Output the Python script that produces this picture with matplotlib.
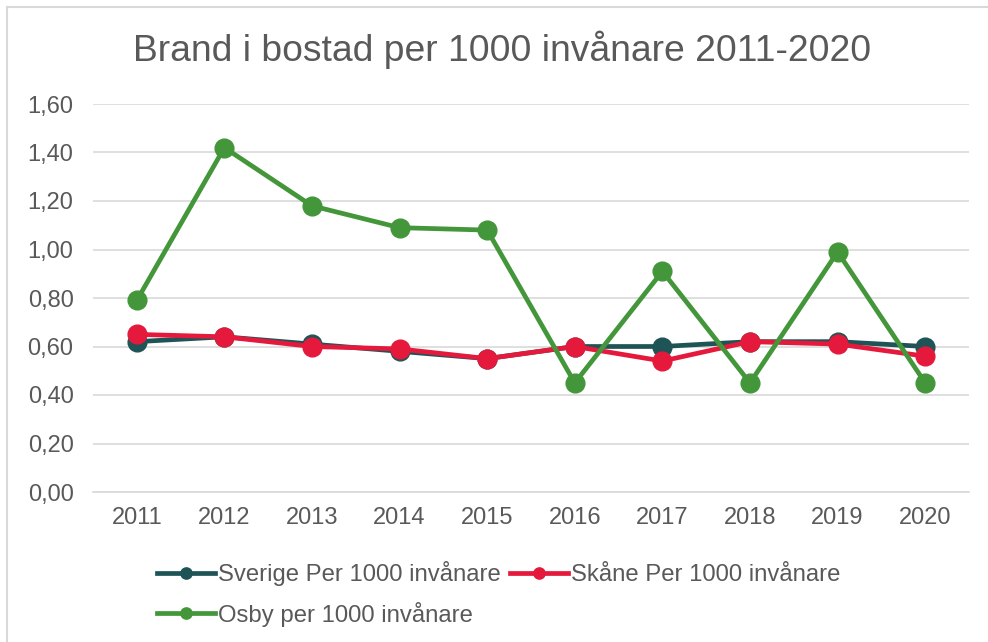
import matplotlib
matplotlib.use('Agg')
import matplotlib.pyplot as plt
from matplotlib.patches import Rectangle
from matplotlib.ticker import FuncFormatter

plt.rcParams['font.family'] = ['Liberation Sans', 'DejaVu Sans']

years = ['2011', '2012', '2013', '2014', '2015', '2016', '2017', '2018', '2019', '2020']
sverige = [0.62, 0.64, 0.61, 0.58, 0.55, 0.60, 0.60, 0.62, 0.62, 0.60]
skane = [0.65, 0.64, 0.60, 0.59, 0.55, 0.60, 0.54, 0.62, 0.61, 0.56]
osby = [0.79, 1.42, 1.18, 1.09, 1.08, 0.45, 0.91, 0.45, 0.99, 0.45]

text_col = '#595959'
grid_col = '#D9D9D9'

fig = plt.figure(figsize=(9.88, 6.42), dpi=100)
fig.patches.append(Rectangle((7 / 988, -0.1), 1.2, 1 - 7 / 642 + 0.1,
                             transform=fig.transFigure, fill=False,
                             edgecolor=grid_col, linewidth=1.5))

ax = fig.add_axes([93 / 988, 1 - 492 / 642, 876 / 988, 388 / 642])
x = list(range(len(years)))

l1, = ax.plot(x, sverige, color='#1F5457', lw=3.4, marker='o', ms=13.5,
              label='Sverige Per 1000 invånare', zorder=3)
l2, = ax.plot(x, skane, color='#E5193B', lw=3.4, marker='o', ms=13.5,
              label='Skåne Per 1000 invånare', zorder=4)
l3, = ax.plot(x, osby, color='#43963A', lw=3.4, marker='o', ms=13.5,
              label='Osby per 1000 invånare', zorder=5)

ax.set_xlim(-0.5, len(years) - 0.5)
ax.set_ylim(0, 1.6)
ax.set_yticks([i * 0.2 for i in range(9)])
ax.yaxis.set_major_formatter(FuncFormatter(lambda v, p: f'{v:.2f}'.replace('.', ',')))
ax.set_xticks(x)
ax.set_xticklabels(years)
ax.grid(axis='y', color=grid_col, lw=1.2)
ax.set_axisbelow(True)
for s in ['top', 'right', 'left']:
    ax.spines[s].set_visible(False)
ax.spines['bottom'].set_color(grid_col)
ax.spines['bottom'].set_linewidth(1.2)
ax.tick_params(axis='both', length=0, labelsize=17, labelcolor=text_col)
ax.tick_params(axis='y', pad=14)
ax.tick_params(axis='x', pad=11)

fig.text(502 / 988, 1 - 50 / 642, 'Brand i bostad per 1000 invånare 2011-2020',
         ha='center', va='center', fontsize=26.8, color=text_col)

fig.legend([l1, l3, l2], [l1.get_label(), l3.get_label(), l2.get_label()],
           loc='center', bbox_to_anchor=(499 / 988, 1 - 594 / 642), ncol=2,
           frameon=False, fontsize=17.2, labelcolor=text_col, markerscale=0.6,
           handlelength=2.4, handletextpad=0.15, columnspacing=0.4,
           labelspacing=0.65)

fig.savefig('out.png', dpi=100)
